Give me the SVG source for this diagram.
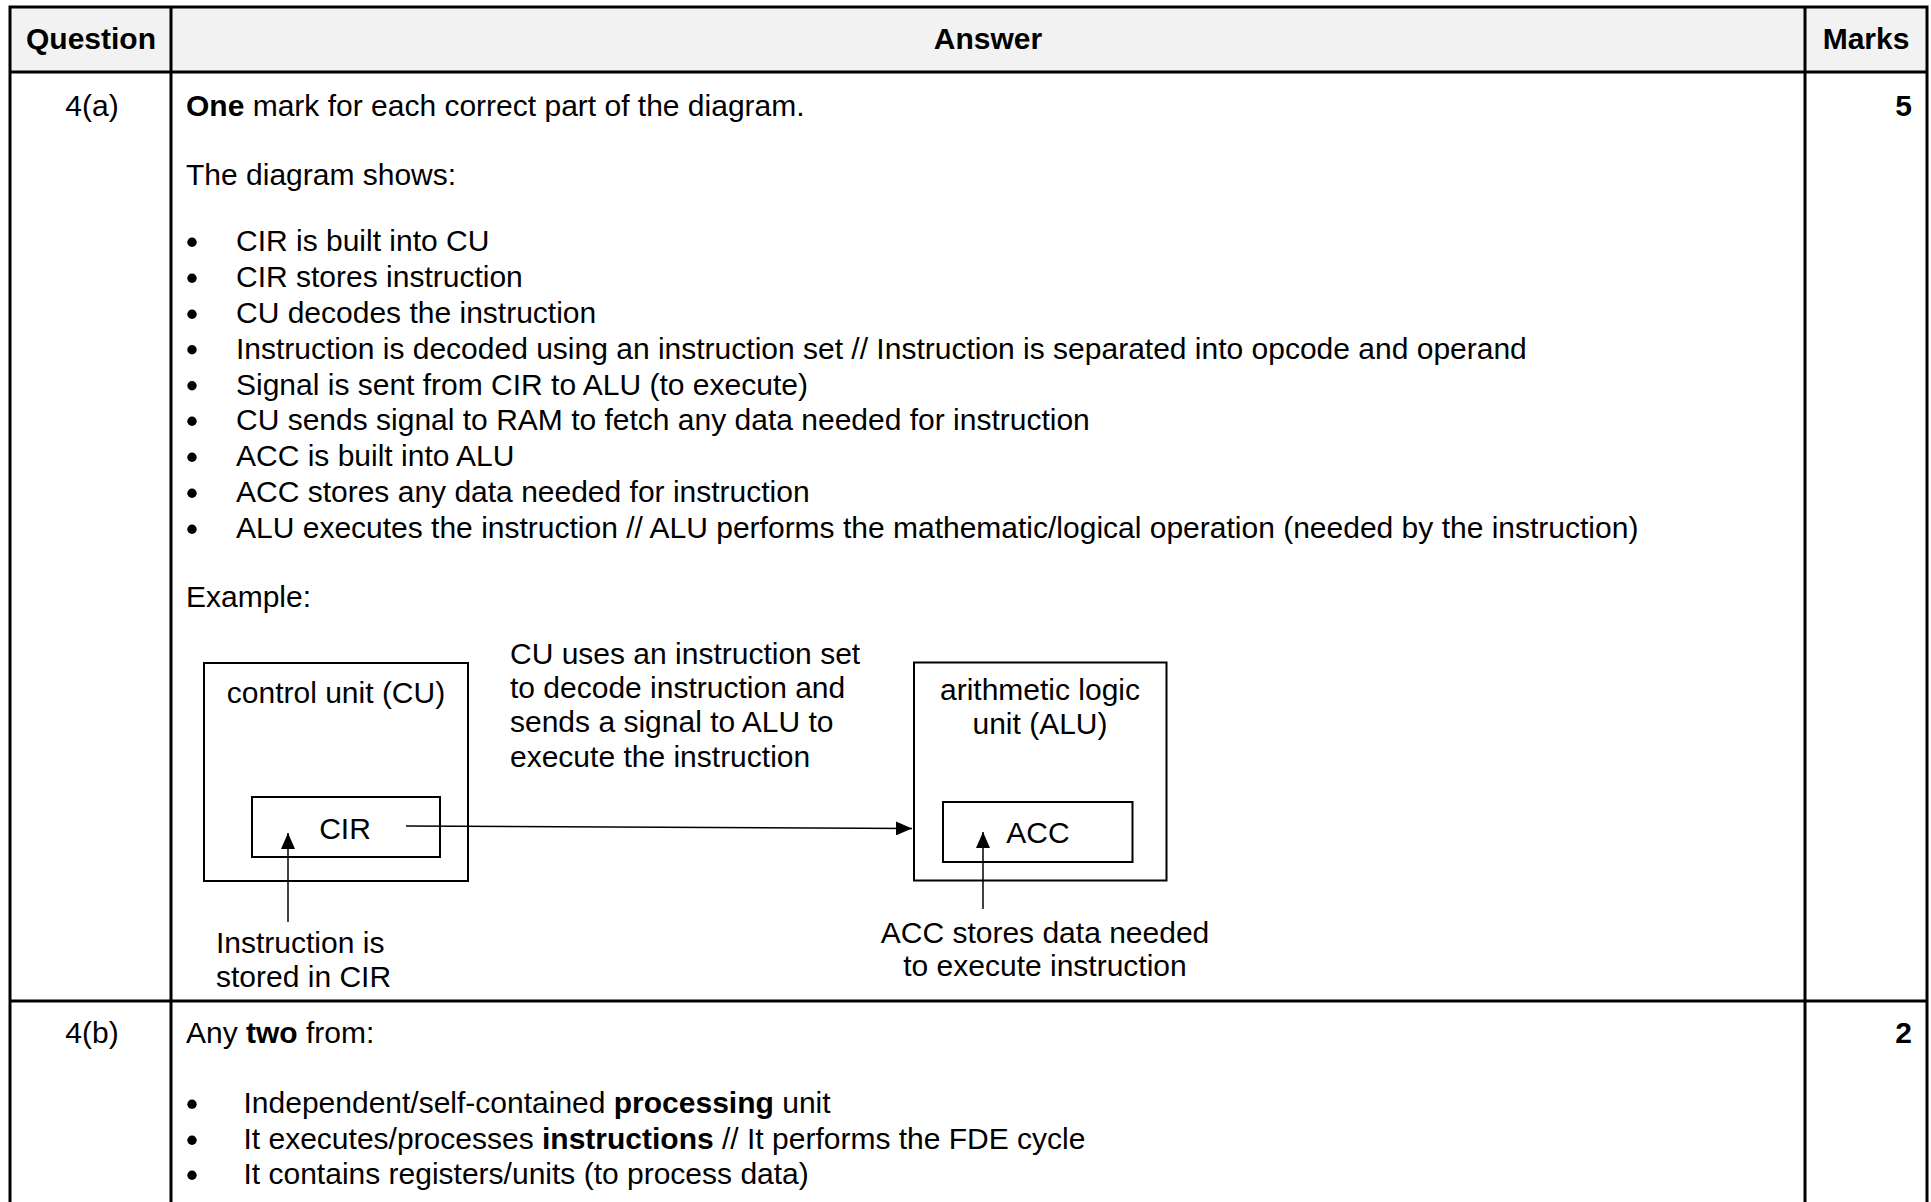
<svg xmlns="http://www.w3.org/2000/svg" width="1931" height="1202" viewBox="0 0 1931 1202">
<defs>
<style>
text{font-family:"Liberation Sans",Arial,Helvetica,sans-serif;font-size:30px;fill:#000}
.b{font-weight:bold}
.c{text-anchor:middle}
.r{text-anchor:end}
.grid{stroke:#000;stroke-width:3;fill:none}
.box{fill:none;stroke:#000;stroke-width:2}
.conn{stroke:#000;stroke-width:1.5;fill:none}
.dot{fill:#000}
</style>
<marker id="ah" viewBox="0 0 16 14" refX="16" refY="7" markerWidth="16" markerHeight="14" markerUnits="userSpaceOnUse" orient="auto"><path d="M0,0 L16,7 L0,14 z" fill="#000"/></marker>
</defs>
<rect x="0" y="0" width="1931" height="1202" fill="#fff"/>
<g id="table">
<rect x="10" y="7" width="1917" height="65" fill="#f2f2f2"/>
<path class="grid" d="M8.5,7 H1928.5 M10,72 H1927 M10,1001 H1927 M10,5.5 V1202 M171,7 V1202 M1805,7 V1202 M1927,5.5 V1202"/>
<text class="b c" x="91" y="49">Question</text>
<text class="b c" x="988" y="49">Answer</text>
<text class="b c" x="1866" y="49">Marks</text>
</g>
<g id="row-4a">
<text class="c" x="92" y="116">4(a)</text>
<text class="b r" x="1912" y="116">5</text>
<text x="186" y="116"><tspan class="b">One</tspan> mark for each correct part of the diagram.</text>
<text x="186" y="185">The diagram shows:</text>
<g class="dot">
<circle cx="192" cy="242.3" r="4.7"/>
<circle cx="192" cy="278.3" r="4.7"/>
<circle cx="192" cy="314.3" r="4.7"/>
<circle cx="192" cy="349.8" r="4.7"/>
<circle cx="192" cy="385.8" r="4.7"/>
<circle cx="192" cy="421.3" r="4.7"/>
<circle cx="192" cy="457.3" r="4.7"/>
<circle cx="192" cy="493.3" r="4.7"/>
<circle cx="192" cy="529.3" r="4.7"/>
</g>
<text x="236" y="251">CIR is built into CU</text>
<text x="236" y="287">CIR stores instruction</text>
<text x="236" y="323">CU decodes the instruction</text>
<text x="236" y="358.5">Instruction is decoded using an instruction set // Instruction is separated into opcode and operand</text>
<text x="236" y="394.5">Signal is sent from CIR to ALU (to execute)</text>
<text x="236" y="430">CU sends signal to RAM to fetch any data needed for instruction</text>
<text x="236" y="466">ACC is built into ALU</text>
<text x="236" y="502">ACC stores any data needed for instruction</text>
<text x="236" y="538">ALU executes the instruction // ALU performs the mathematic/logical operation (needed by the instruction)</text>
<text x="186" y="607">Example:</text>
</g>
<g id="node-cu">
<rect class="box" x="204" y="663" width="264" height="218"/>
<text class="c" x="336" y="703">control unit (CU)</text>
</g>
<g id="node-cir">
<rect class="box" x="252" y="797" width="188" height="60"/>
<text class="c" x="345" y="839">CIR</text>
</g>
<g id="node-alu">
<rect class="box" x="914" y="662.5" width="252.5" height="218"/>
<text class="c" x="1040" y="700">arithmetic logic</text>
<text class="c" x="1040" y="734">unit (ALU)</text>
</g>
<g id="node-acc">
<rect class="box" x="943" y="802" width="189.5" height="60"/>
<text class="c" x="1038" y="843">ACC</text>
</g>
<g id="label-cu-uses">
<text x="510" y="664">CU uses an instruction set</text>
<text x="510" y="698">to decode instruction and</text>
<text x="510" y="732">sends a signal to ALU to</text>
<text x="510" y="767">execute the instruction</text>
</g>
<g id="label-instruction-stored">
<text x="216" y="953">Instruction is</text>
<text x="216" y="987">stored in CIR</text>
</g>
<g id="label-acc-stores">
<text class="c" x="1045" y="943">ACC stores data needed</text>
<text class="c" x="1045" y="976">to execute instruction</text>
</g>
<g id="connectors">
<path class="conn" d="M406,826 L912,828.5" marker-end="url(#ah)"/>
<path class="conn" d="M288,922 L288,833" marker-end="url(#ah)"/>
<path class="conn" d="M983,909 L983,832" marker-end="url(#ah)"/>
</g>
<g id="row-4b">
<text class="c" x="92" y="1043">4(b)</text>
<text class="b r" x="1912" y="1043">2</text>
<text x="186" y="1043">Any <tspan class="b">two</tspan> from:</text>
<g class="dot">
<circle cx="192" cy="1104.3" r="4.7"/>
<circle cx="192" cy="1140.3" r="4.7"/>
<circle cx="192" cy="1175.3" r="4.7"/>
</g>
<text x="243.5" y="1113">Independent/self-contained <tspan class="b">processing</tspan> unit</text>
<text x="243.5" y="1149">It executes/processes <tspan class="b">instructions</tspan> // It performs the FDE cycle</text>
<text x="243.5" y="1184">It contains registers/units (to process data)</text>
</g>
</svg>
